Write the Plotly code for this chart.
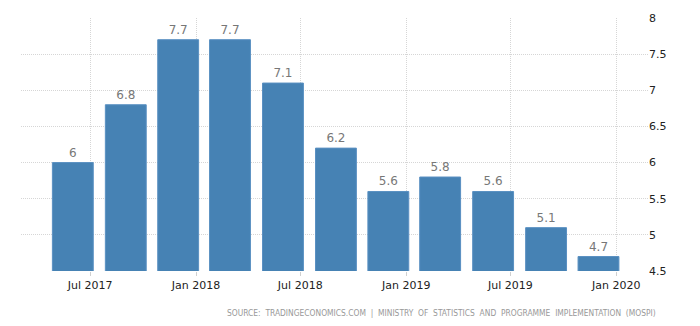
import plotly.graph_objects as go

dates = ["2017-06-01", "2017-09-01", "2017-12-01", "2018-03-01", "2018-06-01",
         "2018-09-01", "2018-12-01", "2019-03-01", "2019-06-01", "2019-09-01", "2019-12-01"]
values = [6.0, 6.8, 7.7, 7.7, 7.1, 6.2, 5.6, 5.8, 5.6, 5.1, 4.7]
value_labels = ["6", "6.8", "7.7", "7.7", "7.1", "6.2", "5.6", "5.8", "5.6", "5.1", "4.7"]
x_ticks = ["2017-07-01", "2018-01-01", "2018-07-01", "2019-01-01", "2019-07-01", "2020-01-01"]
x_tick_labels = ["Jul 2017", "Jan 2018", "Jul 2018", "Jan 2019", "Jul 2019", "Jan 2020"]
y_ticks = [4.5, 5, 5.5, 6, 6.5, 7, 7.5, 8]
y_tick_labels = ["4.5", "5", "5.5", "6", "6.5", "7", "7.5", "8"]
source = "SOURCE:  TRADINGECONOMICS.COM  |  MINISTRY  OF  STATISTICS  AND  PROGRAMME  IMPLEMENTATION  (MOSPI)"

DAY = 86400000
fig = go.Figure(go.Bar(
    x=dates, y=values,
    width=[71 * DAY] * len(values),
    marker=dict(color="#4682b4", line=dict(color="#5a90c2", width=1)),
    text=value_labels, textposition="outside", cliponaxis=False,
    textfont=dict(color="#777777", size=12, family="DejaVu Sans"),
))

fig.update_layout(
    width=700, height=326,
    margin=dict(l=21, r=52, t=18, b=55),
    paper_bgcolor="white", plot_bgcolor="white",
    showlegend=False,
    font=dict(family="DejaVu Sans", size=11, color="#222222"),
    xaxis=dict(
        type="date", range=["2017-03-03", "2020-02-25"],
        tickvals=x_ticks, ticktext=x_tick_labels,
        showgrid=True, gridcolor="#d6d6d6", griddash="1px,1px", gridwidth=1,
        ticks="outside", ticklen=4, tickcolor="#d0d0d0",
        showline=False, zeroline=False,
        tickfont=dict(size=11, color="#222222"),
    ),
    yaxis=dict(
        range=[4.5, 8], side="right",
        tickvals=y_ticks, ticktext=y_tick_labels,
        showgrid=True, gridcolor="#d6d6d6", griddash="1px,1px", gridwidth=1,
        ticks="", zeroline=False, showline=False,
        tickfont=dict(size=11, color="#222222"),
    ),
    annotations=[dict(
        text=source,
        xref="paper", yref="paper", x=1.0 + 10 / 627, y=-0.14,
        xanchor="right", yanchor="top", showarrow=False,
        font=dict(size=8.4, color="#999999", family="DejaVu Sans Condensed"),
    )],
)

fig.write_html("out.html")
